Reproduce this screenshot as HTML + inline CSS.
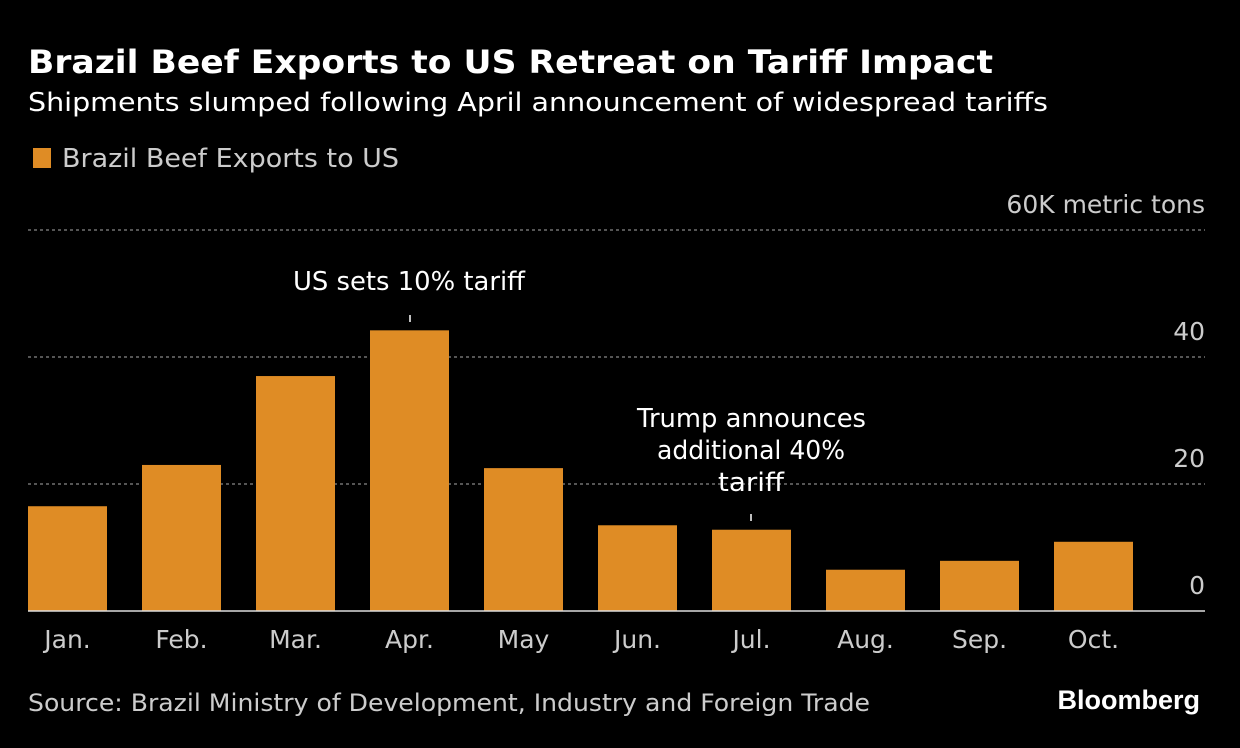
<!DOCTYPE html>
<html><head><meta charset="utf-8"><style>
body{margin:0;background:#000;width:1240px;height:744px;overflow:hidden;font-family:"DejaVu Sans","Liberation Sans",sans-serif;}
</style></head><body>
<svg width="1240" height="744" xmlns="http://www.w3.org/2000/svg">
<text x="28" y="73" fill="#fff" font-size="32" font-weight="bold" textLength="965" lengthAdjust="spacingAndGlyphs">Brazil Beef Exports to US Retreat on Tariff Impact</text>
<text x="28" y="111" fill="#fff" font-size="26" textLength="1020" lengthAdjust="spacingAndGlyphs">Shipments slumped following April announcement of widespread tariffs</text>
<rect x="33" y="148" width="18" height="20" fill="#df8c25"/>
<text x="62" y="167" fill="#ccc" font-size="26" textLength="337" lengthAdjust="spacingAndGlyphs">Brazil Beef Exports to US</text>
<g id="grid"></g><g id="bars"></g><g id="xlabels"></g>
<line x1="28" y1="611" x2="1205" y2="611" stroke="#ddd" stroke-width="1.5"/>
<text x="293" y="290" fill="#fff" font-size="26" textLength="232" lengthAdjust="spacingAndGlyphs">US sets 10% tariff</text>
<line x1="410" y1="315" x2="410" y2="322" stroke="#fff" stroke-width="1.5"/>
<text fill="#fff" font-size="26"><tspan x="637" y="427" textLength="229" lengthAdjust="spacingAndGlyphs">Trump announces</tspan><tspan x="657" y="459" textLength="188" lengthAdjust="spacingAndGlyphs">additional 40%</tspan><tspan x="718" y="491" textLength="66" lengthAdjust="spacingAndGlyphs">tariff</tspan></text>
<line x1="751" y1="514" x2="751" y2="521" stroke="#fff" stroke-width="1.5"/>
<text x="28" y="711" fill="#ccc" font-size="24" textLength="842" lengthAdjust="spacingAndGlyphs">Source: Brazil Ministry of Development, Industry and Foreign Trade</text>
<text x="1200" y="709" fill="#fff" font-size="27" font-weight="bold" text-anchor="end" font-family="Liberation Sans, sans-serif">Bloomberg</text>
</svg>
<script>
const categories=["Jan.","Feb.","Mar.","Apr.","May","Jun.","Jul.","Aug.","Sep.","Oct."];
const values=[16.5,23,37,44.2,22.5,13.5,12.8,6.5,7.9,10.9];
const tickValues=[0,20,40,60];
const tickLabels=["0","20","40","60K metric tons"];
const NS="http://www.w3.org/2000/svg";
const y=v=>611-v*6.35;
const x=i=>67.5+114*i;
function mk(t,a,p,txt){const e=document.createElementNS(NS,t);for(const k in a)e.setAttribute(k,a[k]);if(txt!==undefined)e.textContent=txt;p.appendChild(e);return e;}
const g=document.getElementById('grid'),b=document.getElementById('bars'),xl=document.getElementById('xlabels');
tickValues.forEach((v,i)=>{
 if(v>0){const l=mk('line',{x1:28,x2:1205,y1:y(v),y2:y(v),stroke:'#888','stroke-dasharray':'3,3','stroke-width':1.3},g);
 
 }
 const t=mk('text',{x:1205,y:y(v)-17,fill:'#ccc','font-size':25,'text-anchor':'end'},g,tickLabels[i]);
 
 
});
categories.forEach((c,i)=>{
 const r=mk('rect',{x:x(i)-39.5,y:y(values[i]),width:79,height:611-y(values[i]),fill:'#df8c25'},b);
 
 
 const t=mk('text',{x:x(i),y:648,fill:'#ccc','font-size':25,'text-anchor':'middle'},xl,c);
 
 
});
</script>
</body></html>
